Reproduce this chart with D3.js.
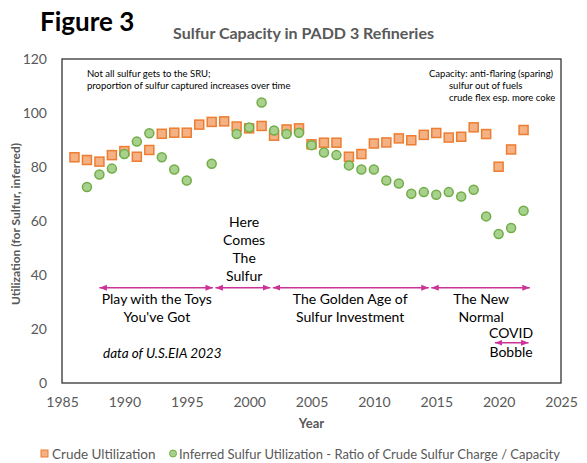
<!DOCTYPE html>
<html>
<head>
<meta charset="utf-8">
<script src="https://cdn.jsdelivr.net/npm/d3@7"></script>
<style>
  body { margin: 0; background: #fff; }
  text { font-family: Lato, "Open Sans", sans-serif; }
</style>
</head>
<body>
<div id="chart"></div>
<script>
// data
var years = [1986,1987,1988,1989,1990,1991,1992,1993,1994,1995,1996,1997,1998,1999,2000,2001,2002,2003,2004,
             2005,2006,2007,2008,2009,2010,2011,2012,2013,2014,2015,2016,2017,2018,2019,2020,2021,2022];
var crude = [83.6,82.6,82.0,84.4,85.9,83.8,86.3,92.3,92.7,92.7,95.7,96.7,96.9,95.0,94.3,95.2,91.6,93.9,94.3,
             88.4,89.0,89.0,83.8,84.8,88.7,89.1,90.6,89.9,91.9,92.6,90.9,91.2,94.7,92.2,80.1,86.5,93.7];
var sulfur = [null,72.6,77.2,79.4,84.8,89.4,92.5,83.6,79.1,75.0,null,81.2,null,92.2,94.6,103.9,93.5,92.2,92.7,
              88.1,85.4,84.4,80.6,79.1,79.1,75.0,73.9,70.1,70.7,69.7,70.7,69.1,71.6,61.7,55.2,57.4,63.8];
var xTicks = [1985,1990,1995,2000,2005,2010,2015,2020,2025];
var yTicks = [0,20,40,60,80,100,120];

// era arrows: [from year, to year, level]
var eras = [[1988,1997.1,35.3],[1997.3,2001.7,35.3],[2001.9,2014.4,35.3],[2014.6,2022.5,35.3]];
var covid = [2019.7,2022.4,14.9];
// era labels: centre year, baseline level of first line
var eraLabels = [
  {x: 1992.6, y: 29.3, lines: ["Play with the Toys","You've Got"]},
  {x: 1999.6, y: 57.6, lines: ["Here","Comes","The","Sulfur"]},
  {x: 2008.1, y: 29.3, lines: ["The Golden Age of","Sulfur Investment"]},
  {x: 2018.6, y: 29.3, lines: ["The New","Normal"]},
  {x: 2021.0, y: 16.6, lines: ["COVID"]},
  {x: 2021.0, y: 9.8, lines: ["Bobble"]}
];

var W = 587, H = 463;
var margin = {left: 62, right: 26, top: 59, bottom: 80};

var svg = d3.select("#chart").append("svg").attr("width", W).attr("height", H);

var x = d3.scaleLinear().domain([1985, 2025]).range([margin.left, W - margin.right]);
var y = d3.scaleLinear().domain([0, 120]).range([H - margin.bottom, margin.top]);

// titles
svg.append("text").attr("x", 40).attr("y", 31)
  .style("font-size", "26px").style("font-weight", "bold").attr("fill", "#000")
  .text("Figure 3");
svg.append("text").attr("x", 173).attr("y", 39)
  .style("font-size", "16px").style("font-weight", "bold").attr("fill", "#595959")
  .text("Sulfur Capacity in PADD 3 Refineries");

// plot frame
svg.append("rect")
  .attr("x", x(1985)).attr("y", y(120))
  .attr("width", x(2025) - x(1985)).attr("height", y(0) - y(120))
  .attr("fill", "none").attr("stroke", "#333").attr("stroke-width", 1.3);

// axes (labels only, no tick marks)
var xAxis = svg.append("g").attr("transform", "translate(0," + y(0) + ")")
  .call(d3.axisBottom(x).tickValues(xTicks).tickFormat(d3.format("d")).tickSize(0).tickPadding(14));
var yAxis = svg.append("g").attr("transform", "translate(" + x(1985) + ",0)")
  .call(d3.axisLeft(y).tickValues(yTicks).tickSize(0).tickPadding(15));
[xAxis, yAxis].forEach(function (g) {
  g.select(".domain").remove();
  g.selectAll("text").style("font-size", "14px").attr("fill", "#595959")
    .style("font-family", "Lato, sans-serif");
});

svg.append("text").attr("x", (x(1985) + x(2025)) / 2).attr("y", 428)
  .attr("text-anchor", "middle").style("font-size", "13px").style("font-weight", "bold")
  .attr("fill", "#595959").text("Year");
svg.append("text")
  .attr("transform", "translate(20," + ((y(0) + y(120)) / 2 + 3) + ") rotate(-90)")
  .attr("text-anchor", "middle").style("font-size", "12px").style("font-weight", "bold")
  .attr("fill", "#595959").text("Utilization (for Sulfur, inferred)");

// arrows
var pink = "#CC3399";
var defs = svg.append("defs");
defs.append("marker").attr("id", "ah").attr("viewBox", "0 0 10 10")
  .attr("refX", 10).attr("refY", 5).attr("markerWidth", 5).attr("markerHeight", 5)
  .attr("orient", "auto-start-reverse")
  .append("path").attr("d", "M0,1 L10,5 L0,9 Z").attr("fill", pink);

svg.selectAll("line.era").data(eras.concat([covid])).enter().append("line")
  .attr("class", "era")
  .attr("x1", function (d) { return x(d[0]); })
  .attr("x2", function (d) { return x(d[1]); })
  .attr("y1", function (d) { return y(d[2]); })
  .attr("y2", function (d) { return y(d[2]); })
  .attr("stroke", pink).attr("stroke-width", 1.5)
  .attr("marker-start", "url(#ah)").attr("marker-end", "url(#ah)");

eraLabels.forEach(function (l) {
  var t = svg.append("text").attr("text-anchor", "middle")
    .style("font-size", "14px").attr("fill", "#000");
  l.lines.forEach(function (s, i) {
    t.append("tspan").attr("x", x(l.x)).attr("y", y(l.y) + i * 18).text(s);
  });
});

svg.append("text").attr("x", 103).attr("y", 358)
  .style("font-size", "13.5px").style("font-style", "italic").attr("fill", "#000")
  .text("data of U.S.EIA 2023");

// small corner notes
var noteL = svg.append("text").style("font-size", "9.5px").attr("fill", "#000");
["Not all sulfur gets to the SRU;", "proportion of sulfur captured increases over time"].forEach(function (s, i) {
  noteL.append("tspan").attr("x", 87).attr("y", 77 + i * 12).text(s);
});
var noteR = svg.append("text").style("font-size", "9.5px").attr("fill", "#000");
[["Capacity: anti-flaring (sparing)", 429], ["sulfur out of fuels", 449], ["crude flex esp. more coke", 449]].forEach(function (s, i) {
  noteR.append("tspan").attr("x", s[1]).attr("y", 77 + i * 12).text(s[0]);
});

// series
var crudePts = years.map(function (yr, i) { return {year: yr, v: crude[i]}; });
var sulfurPts = years.map(function (yr, i) { return {year: yr, v: sulfur[i]}; })
  .filter(function (d) { return d.v !== null; });

svg.append("g").selectAll("rect").data(crudePts).enter().append("rect")
  .attr("x", function (d) { return x(d.year) - 4.5; })
  .attr("y", function (d) { return y(d.v) - 4.5; })
  .attr("width", 9).attr("height", 9)
  .attr("fill", "#F4B183").attr("stroke", "#ED7D31").attr("stroke-width", 1.5);

svg.append("g").selectAll("circle").data(sulfurPts).enter().append("circle")
  .attr("cx", function (d) { return x(d.year); })
  .attr("cy", function (d) { return y(d.v); })
  .attr("r", 4.5)
  .attr("fill", "#A9D18E").attr("stroke", "#70AD47").attr("stroke-width", 1.5);

// legend
var lg = svg.append("g").attr("transform", "translate(0,454)");
lg.append("rect").attr("x", 41).attr("y", -4).attr("width", 7).attr("height", 7)
  .attr("fill", "#F4B183").attr("stroke", "#ED7D31").attr("stroke-width", 1);
lg.append("text").attr("x", 52).attr("y", 4.5).style("font-size", "13.5px").attr("fill", "#595959")
  .text("Crude Ultilization");
lg.append("circle").attr("cx", 173).attr("cy", -0.5).attr("r", 3.5)
  .attr("fill", "#A9D18E").attr("stroke", "#70AD47").attr("stroke-width", 1);
lg.append("text").attr("x", 179).attr("y", 4.5).style("font-size", "13px").attr("fill", "#595959")
  .text("Inferred Sulfur Utilization - Ratio of Crude Sulfur Charge / Capacity");
</script>
</body>
</html>
